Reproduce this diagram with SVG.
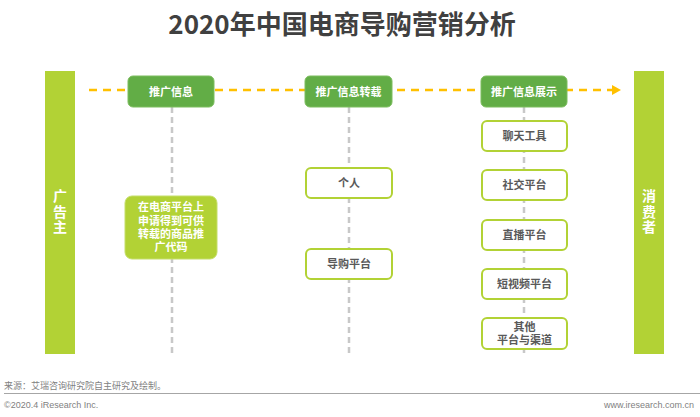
<svg xmlns="http://www.w3.org/2000/svg" width="700" height="417" viewBox="0 0 700 417">
<defs>
<style>
.t{font-family:"Noto Sans CJK SC","Liberation Sans",sans-serif;}
.title{font-size:26px;font-weight:bold;fill:#404040;}
.bar{fill:#b2d235;}
.bart{font-size:14px;font-weight:bold;fill:#ffffff;writing-mode:tb;letter-spacing:1.5px;}
.hd{fill:#62ad46;stroke:#7cbd5e;stroke-width:1;}
.hdt{font-size:11px;font-weight:bold;fill:#ffffff;}
.ob{fill:#ffffff;stroke:#b2d235;stroke-width:2;}
.obt{font-size:11px;font-weight:bold;fill:#595959;}
.fb{fill:#b2d235;stroke:#c5de6a;stroke-width:1;}
.vl{stroke:#c8c8c8;stroke-width:2.5;stroke-dasharray:6 4;fill:none;}
.yl{stroke:#ffc000;stroke-width:2.5;stroke-dasharray:8 6;fill:none;}
.ft{font-family:"Liberation Sans","Noto Sans CJK SC",sans-serif;font-size:9px;fill:#7f7f7f;}
</style>
</defs>
<rect width="700" height="417" fill="#ffffff"/>
<text class="t title" x="342" y="34" text-anchor="middle">2020年中国电商导购营销分析</text>

<g id="connectors">
<line class="vl" x1="172" y1="107" x2="172" y2="355"/>
<line class="vl" x1="349" y1="107" x2="349" y2="357"/>
<line class="vl" x1="524" y1="107" x2="524" y2="357"/>
<line class="yl" x1="89" y1="90" x2="612" y2="90"/>
<path d="M612,85 L621,90 L612,95 Z" fill="#ffc000"/>
</g>

<g id="advertiser">
<rect class="bar" x="45" y="71" width="30" height="283"/>
<text class="t bart" x="60" y="212" text-anchor="middle">广告主</text>
</g>

<g id="consumer">
<rect class="bar" x="634" y="71" width="30" height="283"/>
<text class="t bart" x="649" y="212" text-anchor="middle">消费者</text>
</g>

<g id="h1">
<rect class="hd" x="128" y="76" width="86" height="31" rx="5"/>
<text class="t hdt" x="171" y="95.5" text-anchor="middle">推广信息</text>
</g>
<g id="h2">
<rect class="hd" x="305" y="76" width="87" height="31" rx="5"/>
<text class="t hdt" x="348.5" y="95.5" text-anchor="middle">推广信息转载</text>
</g>
<g id="h3">
<rect class="hd" x="481" y="76" width="86" height="31" rx="5"/>
<text class="t hdt" x="524" y="95.5" text-anchor="middle">推广信息展示</text>
</g>

<g id="code">
<rect class="fb" x="125" y="196" width="92" height="63" rx="7"/>
<text class="t hdt" text-anchor="middle"><tspan x="171" y="211">在电商平台上</tspan><tspan x="171" y="225">申请得到可供</tspan><tspan x="171" y="238">转载的商品推</tspan><tspan x="171" y="251">广代码</tspan></text>
</g>

<g id="personal">
<rect class="ob" x="306" y="168" width="86" height="30" rx="5"/>
<text class="t obt" x="349" y="187" text-anchor="middle">个人</text>
</g>
<g id="guide">
<rect class="ob" x="306" y="249" width="86" height="30" rx="5"/>
<text class="t obt" x="349" y="268" text-anchor="middle">导购平台</text>
</g>

<g id="chat">
<rect class="ob" x="482" y="121" width="85" height="30" rx="5"/>
<text class="t obt" x="524.5" y="140" text-anchor="middle">聊天工具</text>
</g>
<g id="social">
<rect class="ob" x="482" y="170" width="85" height="30" rx="5"/>
<text class="t obt" x="524.5" y="189" text-anchor="middle">社交平台</text>
</g>
<g id="live">
<rect class="ob" x="482" y="220" width="85" height="30" rx="5"/>
<text class="t obt" x="524.5" y="239" text-anchor="middle">直播平台</text>
</g>
<g id="shortvideo">
<rect class="ob" x="482" y="269" width="85" height="30" rx="5"/>
<text class="t obt" x="524.5" y="288" text-anchor="middle">短视频平台</text>
</g>
<g id="other">
<rect class="ob" x="482" y="318" width="85" height="31" rx="5"/>
<text class="t obt" text-anchor="middle"><tspan x="524.5" y="331">其他</tspan><tspan x="524.5" y="344">平台与渠道</tspan></text>
</g>

<text class="ft" x="4" y="389">来源：艾瑞咨询研究院自主研究及绘制。</text>
<line x1="4" y1="393.5" x2="700" y2="393.5" stroke="#a6a6a6" stroke-width="1.2"/>
<text class="ft" x="4" y="407.5">©2020.4 iResearch Inc.</text>
<text class="ft" x="694" y="407.5" text-anchor="end">www.iresearch.com.cn</text>
</svg>
